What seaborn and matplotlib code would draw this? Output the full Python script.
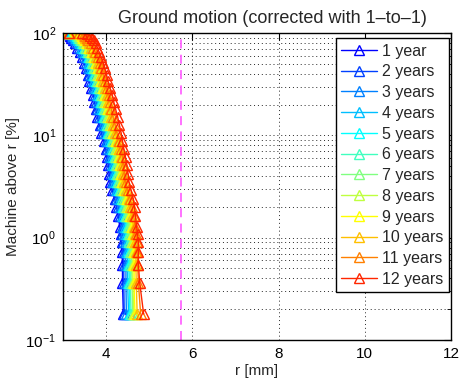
import matplotlib
matplotlib.use("Agg")
import matplotlib.pyplot as plt
import seaborn as sns
import pandas as pd

# ---- data ----
pct_levels = [100, 99, 97, 94, 90, 85, 79, 72, 65, 58, 51, 45, 39, 34, 29, 25, 21, 18, 15, 12.5,
              10.5, 8.8, 7.3, 6.1, 5.1, 4.2, 3.5, 2.9, 2.4, 2.0, 1.62, 1.26, 1.08, 0.90, 0.72,
              0.54, 0.36, 0.18]

r_year1 = [3.03, 3.08, 3.12, 3.16, 3.19, 3.23, 3.28, 3.33, 3.39, 3.45, 3.49, 3.53, 3.57, 3.61, 3.65,
           3.70, 3.73, 3.76, 3.80, 3.85, 3.89, 3.95, 3.99, 4.02, 4.05, 4.07, 4.09, 4.14, 4.20, 4.24,
           4.28, 4.32, 4.34, 4.36, 4.37, 4.38, 4.38, 4.40]
r_year2 = [3.04, 3.11, 3.16, 3.20, 3.23, 3.27, 3.32, 3.37, 3.43, 3.49, 3.53, 3.57, 3.61, 3.65, 3.69,
           3.74, 3.77, 3.80, 3.84, 3.89, 3.93, 3.99, 4.03, 4.06, 4.09, 4.11, 4.13, 4.18, 4.24, 4.28,
           4.32, 4.36, 4.38, 4.40, 4.41, 4.41, 4.41, 4.42]
r_year3 = [3.05, 3.15, 3.20, 3.24, 3.27, 3.31, 3.36, 3.41, 3.47, 3.53, 3.57, 3.61, 3.65, 3.69, 3.73,
           3.78, 3.81, 3.84, 3.88, 3.93, 3.97, 4.03, 4.07, 4.10, 4.13, 4.15, 4.17, 4.22, 4.28, 4.32,
           4.36, 4.40, 4.42, 4.44, 4.45, 4.46, 4.46, 4.47]
r_year4 = [3.06, 3.18, 3.24, 3.28, 3.31, 3.35, 3.40, 3.45, 3.51, 3.57, 3.61, 3.65, 3.69, 3.73, 3.77,
           3.82, 3.85, 3.88, 3.92, 3.97, 4.01, 4.07, 4.11, 4.14, 4.17, 4.19, 4.21, 4.26, 4.32, 4.36,
           4.40, 4.44, 4.46, 4.48, 4.49, 4.50, 4.50, 4.52]
r_year5 = [3.05, 3.21, 3.28, 3.32, 3.35, 3.39, 3.44, 3.49, 3.55, 3.61, 3.65, 3.69, 3.73, 3.77, 3.81,
           3.86, 3.89, 3.92, 3.96, 4.01, 4.05, 4.11, 4.15, 4.18, 4.21, 4.23, 4.25, 4.30, 4.36, 4.40,
           4.44, 4.48, 4.50, 4.52, 4.53, 4.53, 4.54, 4.55]
r_year6 = [3.08, 3.23, 3.30, 3.34, 3.37, 3.41, 3.46, 3.51, 3.57, 3.63, 3.67, 3.71, 3.75, 3.79, 3.83,
           3.88, 3.91, 3.94, 3.98, 4.03, 4.07, 4.13, 4.17, 4.20, 4.23, 4.25, 4.27, 4.32, 4.38, 4.42,
           4.46, 4.50, 4.52, 4.54, 4.55, 4.56, 4.56, 4.58]
r_year7 = [3.07, 3.26, 3.33, 3.37, 3.40, 3.44, 3.49, 3.54, 3.60, 3.66, 3.70, 3.74, 3.78, 3.82, 3.86,
           3.91, 3.94, 3.97, 4.01, 4.06, 4.10, 4.16, 4.20, 4.23, 4.26, 4.28, 4.30, 4.35, 4.41, 4.45,
           4.49, 4.53, 4.55, 4.57, 4.58, 4.59, 4.60, 4.62]
r_year8 = [3.10, 3.29, 3.37, 3.41, 3.44, 3.48, 3.53, 3.58, 3.64, 3.70, 3.74, 3.78, 3.82, 3.86, 3.90,
           3.95, 3.98, 4.01, 4.05, 4.10, 4.14, 4.20, 4.24, 4.27, 4.30, 4.32, 4.34, 4.39, 4.45, 4.49,
           4.53, 4.57, 4.59, 4.61, 4.62, 4.62, 4.62, 4.64]
r_year9 = [3.09, 3.32, 3.40, 3.44, 3.47, 3.51, 3.56, 3.61, 3.67, 3.73, 3.77, 3.81, 3.85, 3.89, 3.93,
           3.98, 4.01, 4.04, 4.08, 4.13, 4.17, 4.23, 4.27, 4.30, 4.33, 4.35, 4.37, 4.42, 4.48, 4.52,
           4.56, 4.60, 4.62, 4.64, 4.64, 4.65, 4.65, 4.67]
r_year10 = [3.12, 3.35, 3.44, 3.48, 3.51, 3.55, 3.60, 3.65, 3.71, 3.77, 3.81, 3.85, 3.89, 3.93, 3.97,
            4.02, 4.05, 4.08, 4.12, 4.17, 4.21, 4.27, 4.31, 4.34, 4.37, 4.39, 4.41, 4.46, 4.52, 4.56,
            4.60, 4.64, 4.66, 4.68, 4.69, 4.69, 4.70, 4.72]
r_year11 = [3.13, 3.38, 3.48, 3.52, 3.55, 3.59, 3.64, 3.69, 3.75, 3.81, 3.85, 3.89, 3.93, 3.97, 4.01,
            4.06, 4.09, 4.12, 4.16, 4.21, 4.25, 4.31, 4.35, 4.38, 4.41, 4.43, 4.45, 4.50, 4.56, 4.60,
            4.64, 4.68, 4.70, 4.72, 4.72, 4.73, 4.75, 4.80]
r_year12 = [3.15, 3.45, 3.56, 3.62, 3.67, 3.71, 3.76, 3.80, 3.84, 3.89, 3.93, 3.97, 4.01, 4.04, 4.09,
            4.14, 4.18, 4.22, 4.27, 4.31, 4.35, 4.38, 4.41, 4.45, 4.48, 4.51, 4.53, 4.58, 4.63, 4.66,
            4.68, 4.71, 4.73, 4.75, 4.75, 4.75, 4.78, 4.87]

year_labels = ["1 year", "2 years", "3 years", "4 years", "5 years", "6 years", "7 years",
               "8 years", "9 years", "10 years", "11 years", "12 years"]
r_by_year = [r_year1, r_year2, r_year3, r_year4, r_year5, r_year6, r_year7, r_year8,
             r_year9, r_year10, r_year11, r_year12]
year_colors = [(0.0, 0.0, 1.0), (0.0, 0.25, 1.0), (0.0, 0.5, 1.0), (0.0, 0.75, 1.0),
               (0.0, 1.0, 1.0), (0.25, 1.0, 0.75), (0.5, 1.0, 0.5), (0.75, 1.0, 0.25),
               (1.0, 1.0, 0.0), (1.0, 0.75, 0.0), (1.0, 0.5, 0.0), (1.0, 0.15, 0.0)]
threshold_r = 5.73

x_ticks = [4, 6, 8, 10, 12]

# ---- style ----
sns.set_theme(style="white")
plt.rcParams["font.family"] = ["Liberation Sans", "DejaVu Sans"]
plt.rcParams["mathtext.fontset"] = "custom"
plt.rcParams["mathtext.rm"] = "Liberation Sans"
plt.rcParams["mathtext.it"] = "Liberation Sans:italic"
plt.rcParams["axes.edgecolor"] = "black"
plt.rcParams["axes.linewidth"] = 1.0

fig = plt.figure(figsize=(4.65, 3.8), dpi=100)
ax = fig.add_axes([63 / 465, 1 - 340 / 380, (451 - 63) / 465, (340 - 33) / 380])

for r_vals, lab, col in zip(r_by_year, year_labels, year_colors):
    df = pd.DataFrame({"r": r_vals, "pct": pct_levels})
    sns.lineplot(data=df, x="r", y="pct", color=col, marker="^", markersize=6.5,
                 markerfacecolor="none", markeredgecolor=col, markeredgewidth=1.0,
                 linewidth=1.0, estimator=None, sort=False, label=lab, ax=ax)

ax.axvline(threshold_r, color=(1.0, 0.4, 1.0), linestyle=(0, (5, 3.5)), linewidth=1.3, zorder=1)

ax.set_yscale("log")
ax.set_xlim(3, 12)
ax.set_ylim(0.1, 100)
ax.set_xticks(x_ticks)
ax.set_xticklabels([str(t) for t in x_ticks])

grid_style = dict(linestyle=(0, (1, 3)), color="0.15", linewidth=0.7)
ax.grid(True, which="major", axis="both", **grid_style)
ax.grid(True, which="minor", axis="y", **grid_style)
ax.grid(False, which="minor", axis="x")
ax.set_axisbelow(True)

ax.tick_params(axis="both", which="both", direction="in", top=True, right=True,
               labelsize=11, colors="black")
ax.tick_params(axis="both", which="major", length=5, width=0.8, pad=5)
ax.tick_params(axis="y", which="minor", length=2.8, width=0.6)
for spine in ax.spines.values():
    spine.set_color("black")
    spine.set_linewidth(1.0)

ax.set_xlabel("r [mm]", fontsize=11, labelpad=2)
ax.set_ylabel("Machine above r [%]", fontsize=11, labelpad=4)
ax.set_title("Ground motion (corrected with 1\u2013to\u20131)", fontsize=13, x=0.54, pad=7)

leg = ax.legend(loc="upper right", bbox_to_anchor=(0.995, 0.984), borderaxespad=0,
                fontsize=11.5, frameon=True, fancybox=False, framealpha=1, edgecolor="black",
                handlelength=2.2, handletextpad=0.35, labelspacing=0.36, borderpad=0.35)
leg.get_frame().set_linewidth(1.0)

fig.savefig("out.png", dpi=100)
